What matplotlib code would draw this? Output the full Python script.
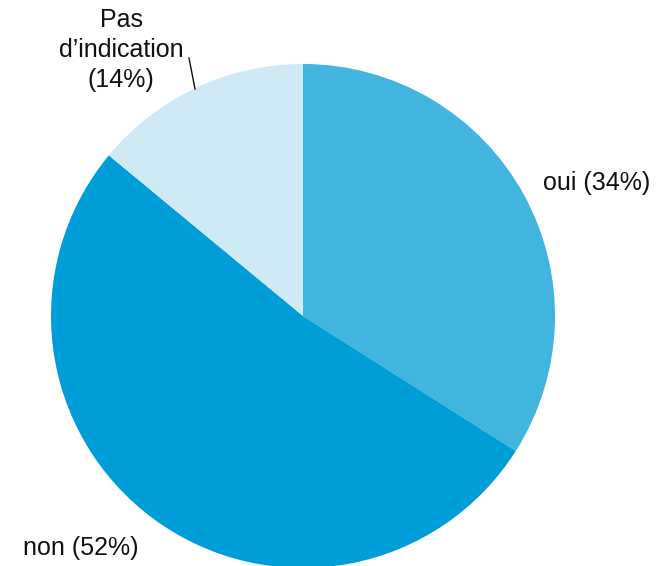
import matplotlib
matplotlib.use("Agg")
import matplotlib.pyplot as plt

categories = ["oui", "non", "Pas\nd\u2019indication"]
values = [34, 52, 14]
colors = ["#41b4e0", "#009ed8", "#cfe9f5"]

W, H = 662, 566
fig = plt.figure(figsize=(W / 100, H / 100), dpi=100)
ax = fig.add_axes([0, 0, 1, 1])
ax.set_xlim(0, W)
ax.set_ylim(0, H)
ax.set_aspect("equal")
ax.axis("off")

cx, cy, r = 303, H - 316, 252
ax.pie(values, colors=colors, startangle=90, counterclock=False,
       center=(cx, cy), radius=r, frame=True,
       wedgeprops=dict(linewidth=0))
ax.set_xlim(0, W)
ax.set_ylim(0, H)
ax.axis("off")

font = dict(family=["Liberation Sans", "DejaVu Sans"], fontsize=18, color="#111111")
ax.text(543, H - 183, f"{categories[0]} ({values[0]}%)", ha="left", va="center", **font)
ax.text(23, H - 548, f"{categories[1]} ({values[1]}%)", ha="left", va="center", **font)
ax.text(121, H - 50, f"{categories[2]}\n({values[2]}%)", ha="center", va="center",
        linespacing=1.33, **font)
ax.plot([189, 195], [H - 58, H - 89], color="#111111", lw=1)

fig.savefig("out.png", dpi=100)
